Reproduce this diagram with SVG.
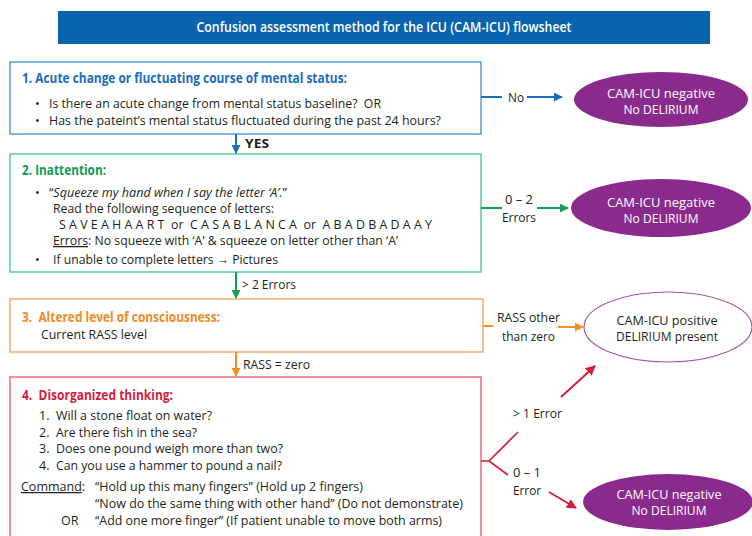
<svg xmlns="http://www.w3.org/2000/svg" width="752" height="536" viewBox="0 0 752 536">
  <style>
    text { font-family: "Open Sans", "Liberation Sans", Arial, sans-serif; font-size: 12.5px; fill: #231f20; }
    .t { white-space: pre; }
    .hd { font-size: 13.5px; font-weight: 600; fill: #ffffff; }
    .ttl { font-size: 14.5px; font-weight: 700; }
    .blue { fill: #1a6cbc; }
    .green { fill: #0e9b55; }
    .orange { fill: #f18a1f; }
    .red { fill: #d31d3d; }
    .ov { fill: #ffffff; text-anchor: middle; font-size: 12.5px; }
    .ovd { text-anchor: middle; font-size: 12.5px; }
    .u { text-decoration: underline; }
    .box { fill: #ffffff; stroke-width: 1.5; }
    .neg { fill: #8b2a8d; }
    .pos { fill: #ffffff; stroke: #a05aa6; stroke-width: 1.2; }
    .cb { stroke: #1a6cbc; stroke-width: 2; fill: none; }
    .cg { stroke: #12a058; stroke-width: 2; fill: none; }
    .co { stroke: #f39021; stroke-width: 2; fill: none; }
    .cr { stroke: #d81e3c; stroke-width: 2; fill: none; }
  </style>
  <defs>
    <marker id="ah-blue" viewBox="0 0 10 10" refX="9" refY="5" markerWidth="9" markerHeight="9" markerUnits="userSpaceOnUse" orient="auto"><path d="M0,0 L10,5 L0,10 z" fill="#1a6cbc"/></marker>
    <marker id="ah-green" viewBox="0 0 10 10" refX="9" refY="5" markerWidth="9" markerHeight="9" markerUnits="userSpaceOnUse" orient="auto"><path d="M0,0 L10,5 L0,10 z" fill="#12a058"/></marker>
    <marker id="ah-orange" viewBox="0 0 10 10" refX="9" refY="5" markerWidth="9" markerHeight="9" markerUnits="userSpaceOnUse" orient="auto"><path d="M0,0 L10,5 L0,10 z" fill="#f39021"/></marker>
    <marker id="ah-red" viewBox="0 0 10 10" refX="9" refY="5" markerWidth="10" markerHeight="10" markerUnits="userSpaceOnUse" orient="auto"><path d="M0,0 L10,5 L0,10 z" fill="#d81e3c"/></marker>
  </defs>

  <!-- heading banner -->
  <g id="header">
    <rect x="58" y="11" width="652" height="33" fill="#0a63ae"/>
    <text class="hd" x="384" y="32" text-anchor="middle" textLength="375" lengthAdjust="spacingAndGlyphs">Confusion assessment method for the ICU (CAM-ICU) flowsheet</text>
  </g>

  <!-- step 1 -->
  <g id="step1">
    <rect class="box" x="10" y="62" width="471" height="72" stroke="#5b9bd5"/>
    <text class="ttl blue" x="22" y="83" textLength="325" lengthAdjust="spacingAndGlyphs">1. Acute change or fluctuating course of mental status:</text>
    <text x="35" y="108">•</text>
    <text class="t" x="49" y="108" textLength="332" lengthAdjust="spacingAndGlyphs">Is there an acute change from mental status baseline?  OR</text>
    <text x="35" y="125">•</text>
    <text x="49" y="125" textLength="392" lengthAdjust="spacingAndGlyphs">Has the pateint’s mental status fluctuated during the past 24 hours?</text>
  </g>

  <!-- step 2 -->
  <g id="step2">
    <rect class="box" x="10" y="154" width="471" height="118" stroke="#5ccb93"/>
    <text class="ttl green" x="22" y="175" textLength="84" lengthAdjust="spacingAndGlyphs">2. Inattention:</text>
    <text x="35" y="197">•</text>
    <text x="49" y="197" textLength="238" lengthAdjust="spacingAndGlyphs">“<tspan font-style="italic">Squeeze my hand when I say the letter ‘A’.</tspan>”</text>
    <text x="53" y="213" textLength="221" lengthAdjust="spacingAndGlyphs">Read the following sequence of letters:</text>
    <text class="t" x="59" y="229" textLength="373" lengthAdjust="spacingAndGlyphs">S A V E A H A A R T  or  C A S A B L A N C A  or  A B A D B A D A A Y</text>
    <text x="53" y="245" textLength="345" lengthAdjust="spacingAndGlyphs"><tspan class="u">Errors</tspan>: No squeeze with ‘A’ &amp; squeeze on letter other than ‘A’</text>
    <text x="35" y="264">•</text>
    <text x="53" y="264" textLength="225" lengthAdjust="spacingAndGlyphs">If unable to complete letters → Pictures</text>
  </g>

  <!-- step 3 -->
  <g id="step3">
    <rect class="box" x="10" y="299" width="473" height="53" stroke="#f7a968"/>
    <text class="ttl orange t" x="22" y="322" textLength="198" lengthAdjust="spacingAndGlyphs">3.  Altered level of consciousness:</text>
    <text x="41" y="339" textLength="106" lengthAdjust="spacingAndGlyphs">Current RASS level</text>
  </g>

  <!-- step 4 -->
  <g id="step4">
    <rect class="box" x="10" y="377" width="471" height="170" stroke="#ec6a7b"/>
    <text class="ttl red t" x="22" y="400" textLength="151" lengthAdjust="spacingAndGlyphs">4.  Disorganized thinking:</text>
    <text x="39" y="420">1.</text>
    <text x="56" y="420" textLength="156" lengthAdjust="spacingAndGlyphs">Will a stone float on water?</text>
    <text x="39" y="437">2.</text>
    <text x="56" y="437" textLength="141" lengthAdjust="spacingAndGlyphs">Are there fish in the sea?</text>
    <text x="39" y="453">3.</text>
    <text x="56" y="453" textLength="227" lengthAdjust="spacingAndGlyphs">Does one pound weigh more than two?</text>
    <text x="39" y="470">4.</text>
    <text x="56" y="470" textLength="226" lengthAdjust="spacingAndGlyphs">Can you use a hammer to pound a nail?</text>
    <text x="21" y="491"><tspan class="u">Command</tspan>:</text>
    <text x="95" y="491" textLength="268" lengthAdjust="spacingAndGlyphs">“Hold up this many fingers” (Hold up 2 fingers)</text>
    <text x="95" y="508" textLength="368" lengthAdjust="spacingAndGlyphs">“Now do the same thing with other hand” (Do not demonstrate)</text>
    <text x="61" y="525">OR</text>
    <text x="95" y="525" textLength="347" lengthAdjust="spacingAndGlyphs">“Add one more finger” (If patient unable to move both arms)</text>
  </g>

  <!-- outcomes -->
  <g id="neg1">
    <ellipse class="neg" cx="661" cy="99.5" rx="87" ry="27.5"/>
    <text class="ov" x="661" y="98" textLength="108" lengthAdjust="spacingAndGlyphs">CAM-ICU negative</text>
    <text class="ov" x="661" y="114" textLength="75" lengthAdjust="spacingAndGlyphs">No DELIRIUM</text>
  </g>
  <g id="neg2">
    <ellipse class="neg" cx="661" cy="208" rx="90" ry="29"/>
    <text class="ov" x="661" y="207" textLength="108" lengthAdjust="spacingAndGlyphs">CAM-ICU negative</text>
    <text class="ov" x="661" y="222.5" textLength="75" lengthAdjust="spacingAndGlyphs">No DELIRIUM</text>
  </g>
  <g id="pos">
    <ellipse class="pos" cx="668" cy="327" rx="84" ry="35"/>
    <text class="ovd" x="667" y="325" textLength="101" lengthAdjust="spacingAndGlyphs">CAM-ICU positive</text>
    <text class="ovd" x="667" y="341" textLength="102" lengthAdjust="spacingAndGlyphs">DELIRIUM present</text>
  </g>
  <g id="neg3">
    <ellipse class="neg" cx="668" cy="502" rx="85" ry="28"/>
    <text class="ov" x="669" y="499" textLength="105" lengthAdjust="spacingAndGlyphs">CAM-ICU negative</text>
    <text class="ov" x="669" y="515" textLength="75" lengthAdjust="spacingAndGlyphs">No DELIRIUM</text>
  </g>

  <!-- connectors -->
  <g id="connectors">
    <line class="cb" x1="236" y1="134" x2="236" y2="153" marker-end="url(#ah-blue)"/>
    <text x="245" y="147.5" font-weight="700" font-size="12.5" textLength="24" lengthAdjust="spacingAndGlyphs">YES</text>

    <line class="cg" x1="236" y1="272" x2="236" y2="298" marker-end="url(#ah-green)"/>
    <text x="242" y="288.5" textLength="54" lengthAdjust="spacingAndGlyphs">&gt; 2 Errors</text>

    <line class="co" x1="236" y1="352" x2="236" y2="376" marker-end="url(#ah-orange)"/>
    <text x="243" y="368.5" textLength="67" lengthAdjust="spacingAndGlyphs">RASS = zero</text>

    <line class="cb" x1="481" y1="97" x2="502" y2="97"/>
    <text x="508" y="101.5" textLength="16" lengthAdjust="spacingAndGlyphs">No</text>
    <line class="cb" x1="527" y1="97" x2="562" y2="97" marker-end="url(#ah-blue)"/>

    <line class="cg" x1="481" y1="208" x2="502" y2="208"/>
    <text x="519" y="203.5" text-anchor="middle" textLength="28" lengthAdjust="spacingAndGlyphs">0 – 2</text>
    <text x="519" y="221.5" text-anchor="middle" textLength="34" lengthAdjust="spacingAndGlyphs">Errors</text>
    <line class="cg" x1="537" y1="208" x2="568" y2="208" marker-end="url(#ah-green)"/>

    <line class="co" x1="483" y1="326" x2="493" y2="326"/>
    <text x="497" y="321.5" textLength="63" lengthAdjust="spacingAndGlyphs">RASS other</text>
    <text x="502" y="340.5" textLength="53" lengthAdjust="spacingAndGlyphs">than zero</text>
    <line class="co" x1="558" y1="327" x2="583" y2="327" marker-end="url(#ah-orange)"/>

    <path d="M481,461 H489 L518,432 M489,461 L508,475" stroke="#d81e3c" stroke-width="1.6" fill="none"/>
    <text x="513" y="417.5" textLength="49" lengthAdjust="spacingAndGlyphs">&gt; 1 Error</text>
    <line class="cr" x1="561" y1="397" x2="595" y2="366" marker-end="url(#ah-red)"/>
    <text x="513" y="476.5" textLength="28" lengthAdjust="spacingAndGlyphs">0 – 1</text>
    <text x="513" y="495" textLength="28" lengthAdjust="spacingAndGlyphs">Error</text>
    <line class="cr" x1="549" y1="492" x2="576" y2="508" marker-end="url(#ah-red)"/>
  </g>
</svg>
